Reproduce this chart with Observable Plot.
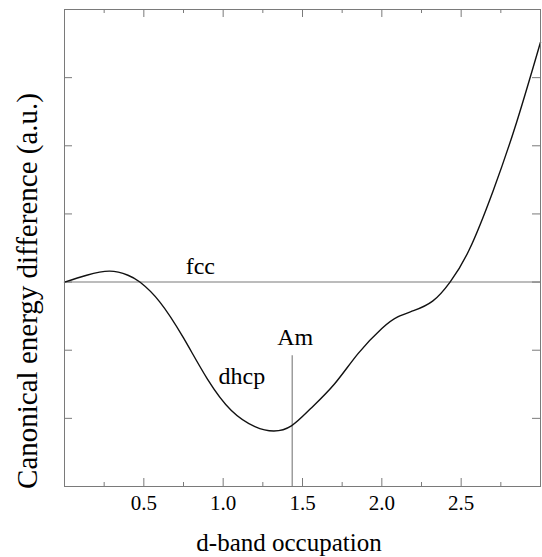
<!DOCTYPE html>
<html>
<head>
<meta charset="utf-8">
<script src="https://cdn.jsdelivr.net/npm/d3@7"></script>
<script src="https://cdn.jsdelivr.net/npm/@observablehq/plot@0.6"></script>
<style>
  html, body { margin: 0; padding: 0; background: #fff; }
  #chart svg, #chart svg text, #chart svg g {
    font-family: "Liberation Serif", Tinos, "Nimbus Roman", "Times New Roman", "DejaVu Serif", serif !important;
  }
</style>
</head>
<body>
<div id="chart"></div>
<script>
// Canonical band energy of dhcp relative to fcc versus d-band occupation
const occupation = [
  0, 0.14, 0.285, 0.40, 0.475, 0.60, 0.75, 0.90, 1.05, 1.20, 1.32, 1.43,
  1.55, 1.70, 1.85, 2.00, 2.10, 2.20, 2.32, 2.43, 2.55, 2.70, 2.85, 3.0
];
const energyDiff = [
  0, 0.10, 0.16, 0.10, 0, -0.29, -0.82, -1.42, -1.88, -2.12, -2.185, -2.11,
  -1.86, -1.50, -1.05, -0.68, -0.51, -0.42, -0.28, 0, 0.47, 1.33, 2.35, 3.52
];

const xDomain = [0, 3];
const yDomain = [-3, 4];
const xMajorTicks = [0.5, 1.0, 1.5, 2.0, 2.5];
const xMinorTicks = [0.25, 0.75, 1.25, 1.75, 2.25, 2.75];
const yTicks = [-2, -1, 0, 1, 2, 3];

// Americium's d-band occupation marker
const amOccupation = 1.435;
const amMarkerTop = -1.08;

const curve = occupation.map((x, i) => ({x, y: energyDiff[i]}));

const W = 542, H = 557;
const mL = 64, mR = 2, mT = 9, mB = 71;
const frameW = W - mL - mR, frameH = H - mT - mB;
const major = 8, minor = 4;
const gray = "#7a7a7a";
const serif = "Liberation Serif, Tinos, Nimbus Roman, Times New Roman, DejaVu Serif, serif";

const chart = Plot.plot({
  width: W,
  height: H,
  marginLeft: mL,
  marginRight: mR,
  marginTop: mT,
  marginBottom: mB,
  style: {fontFamily: serif, color: "#000", background: "#fff", overflow: "visible"},
  x: {domain: xDomain},
  y: {domain: yDomain, axis: null},
  marks: [
    // inward ticks on all four sides
    Plot.ruleX(xMajorTicks, {x: d => d, insetTop: frameH - major, stroke: gray}),
    Plot.ruleX(xMinorTicks, {x: d => d, insetTop: frameH - minor, stroke: gray}),
    Plot.ruleX(xMajorTicks, {x: d => d, insetBottom: frameH - major, stroke: gray}),
    Plot.ruleX(xMinorTicks, {x: d => d, insetBottom: frameH - minor, stroke: gray}),
    Plot.ruleY(yTicks, {y: d => d, insetRight: frameW - major, stroke: gray}),
    Plot.ruleY(yTicks, {y: d => d, insetLeft: frameW - major, stroke: gray}),

    // fcc reference level and the Am marker
    Plot.ruleY([0], {stroke: gray, strokeWidth: 1.1}),
    Plot.ruleX([amOccupation], {y1: amMarkerTop, y2: yDomain[0], stroke: gray, strokeWidth: 1.1}),

    // dhcp - fcc energy difference
    Plot.line(curve, {x: "x", y: "y", curve: "natural", stroke: "#111", strokeWidth: 1.4}),

    Plot.frame({stroke: gray}),

    Plot.axisX({ticks: xMajorTicks, tickSize: 0, tickPadding: 9, tickFormat: d3.format(".1f"),
      fontSize: 21, label: null}),

    // annotations
    Plot.text(["fcc"], {x: [0.856], y: [0], text: d => d, dy: -8, lineAnchor: "bottom", fontSize: 24}),
    Plot.text(["dhcp"], {x: [1.118], y: [-1.49], text: d => d, lineAnchor: "bottom", fontSize: 24}),
    Plot.text(["Am"], {x: [amOccupation], y: [amMarkerTop], text: d => d, dx: 3, dy: -11,
      lineAnchor: "bottom", fontSize: 24}),

    // axis titles
    Plot.text(["d-band occupation"], {frameAnchor: "bottom", text: d => d, textAnchor: "middle",
      dx: -13.5, dy: 64, lineAnchor: "bottom", fontSize: 25}),
    Plot.text(["Canonical energy difference (a.u.)"], {frameAnchor: "left", text: d => d,
      textAnchor: "middle", rotate: -90, dx: -28, dy: 43, lineAnchor: "bottom", fontSize: 29})
  ]
});

document.getElementById("chart").append(chart);
</script>
</body>
</html>
